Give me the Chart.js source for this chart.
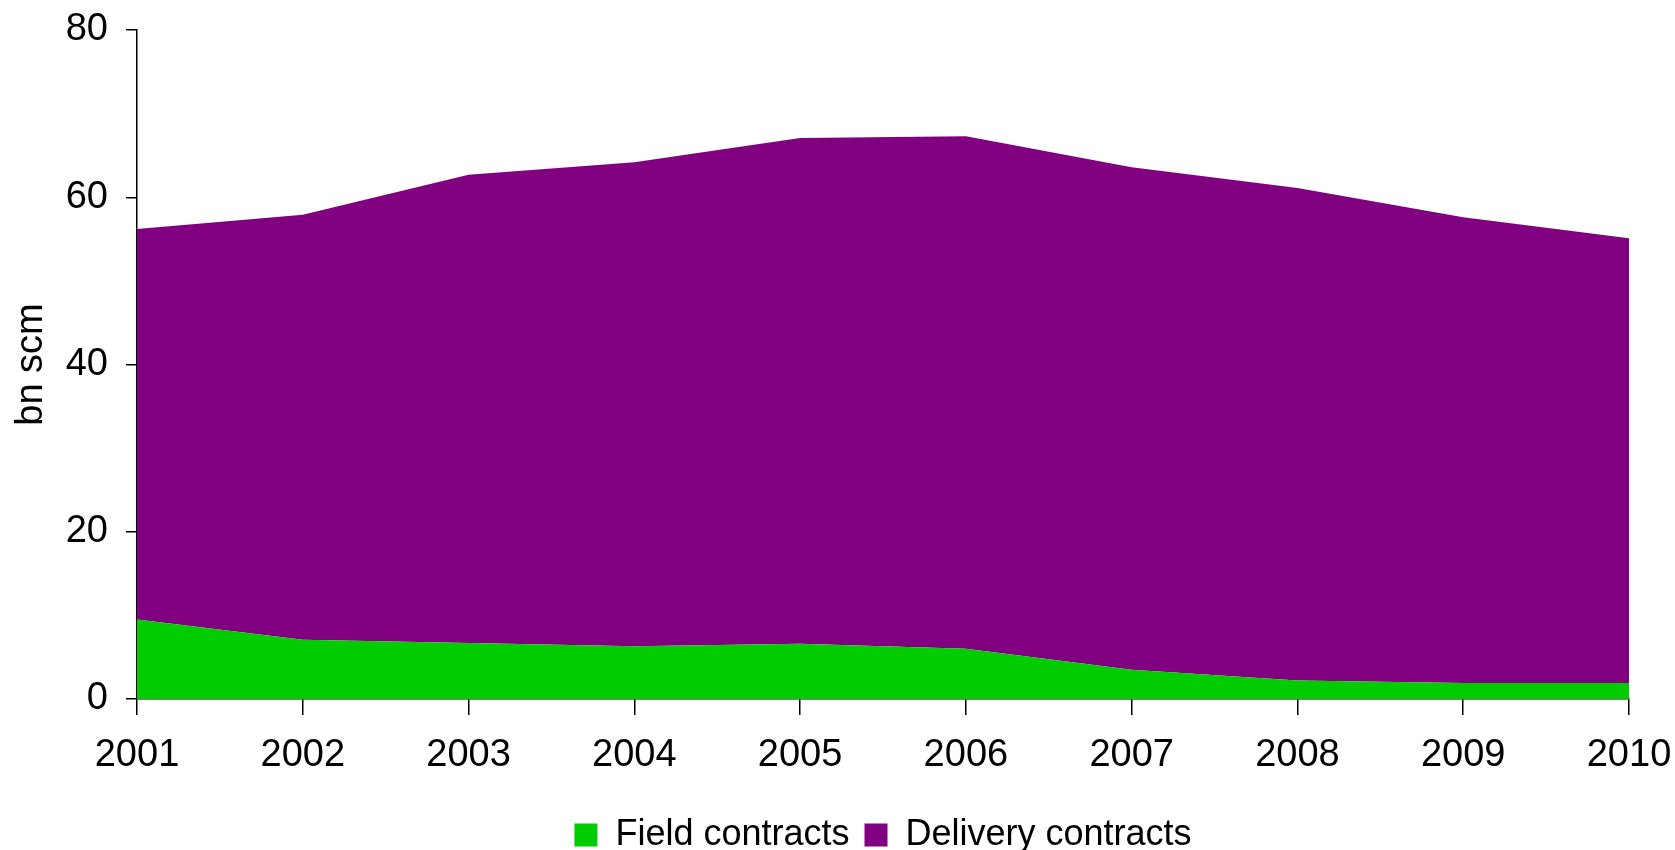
<!DOCTYPE html>
<html lang="en">
<head>
	<meta charset="UTF-8">
	<title>Field and delivery contracts</title>
	<script src="https://cdn.jsdelivr.net/npm/chart.js"></script>
	<style>
		html, body { margin: 0; padding: 0; background: #fff; }
		#wrap { width: 1675px; height: 850px; }
	</style>
</head>
<body>
	<div id="wrap">
		<canvas id="area-chart" width="1675" height="850"></canvas>
	</div>

	<script>
		// values, bn scm
		const years = ['2001', '2002', '2003', '2004', '2005', '2006', '2007', '2008', '2009', '2010'];
		const fieldContracts = [9.5, 7.1, 6.7, 6.3, 6.6, 6.0, 3.5, 2.2, 1.9, 1.9];
		const deliveryContracts = [46.7, 50.8, 56.0, 57.9, 60.5, 61.3, 60.1, 58.9, 55.7, 53.2];
		const yTicks = [0, 20, 40, 60, 80];

		const FONT = "'Liberation Sans', Arial, sans-serif";

		const chart = new Chart(document.getElementById('area-chart'), {
			type: 'line',
			data: {
				labels: years,
				datasets: [{
					label: 'Field contracts',
					data: fieldContracts,
					backgroundColor: '#00cc00',
					borderColor: '#00cc00',
					borderWidth: 0,
					pointRadius: 0,
					tension: 0,
					fill: 'origin'
				}, {
					label: 'Delivery contracts',
					data: deliveryContracts,
					backgroundColor: '#800080',
					borderColor: '#800080',
					borderWidth: 0,
					pointRadius: 0,
					tension: 0,
					fill: '-1'
				}]
			},
			options: {
				responsive: false,
				animation: false,
				layout: {
					padding: { top: 30, right: 46, left: 0, bottom: -13 }
				},
				plugins: {
					tooltip: { enabled: false },
					legend: {
						position: 'bottom',
						fullSize: false,
						labels: {
							color: '#000',
							font: { family: FONT, size: 36, lineHeight: 0.6 },
							boxWidth: 23,
							boxHeight: 23,
							padding: 15
						}
					}
				},
				scales: {
					x: {
						stacked: true,
						offset: false,
						grid: {
							drawOnChartArea: false,
							color: '#000',
							lineWidth: 1.5,
							tickLength: 16
						},
						border: { color: '#000', width: 1.5 },
						ticks: {
							color: '#000',
							font: { family: FONT, size: 38 },
							padding: 18,
							maxRotation: 0,
							autoSkip: false
						},
						afterFit: function (scale) {
							scale.height = 103;
							scale.paddingLeft = 0;
							scale.paddingRight = 0;
						}
					},
					y: {
						stacked: true,
						min: 0,
						max: 80,
						afterBuildTicks: function (scale) {
							scale.ticks = yTicks.map(v => ({ value: v }));
						},
						grid: {
							drawOnChartArea: false,
							color: '#000',
							lineWidth: 1.5,
							tickLength: 11
						},
						border: { color: '#000', width: 1.5 },
						ticks: {
							color: '#000',
							font: { family: FONT, size: 38 },
							padding: 18
						},
						title: {
							display: true,
							text: 'bn scm',
							color: '#000',
							font: { family: FONT, size: 38 },
							padding: { top: 9, bottom: 0 }
						},
						afterFit: function (scale) {
							scale.width = 137;
							scale.paddingTop = 0;
							scale.paddingBottom = 0;
						}
					}
				}
			}
		});
	</script>
</body>
</html>
